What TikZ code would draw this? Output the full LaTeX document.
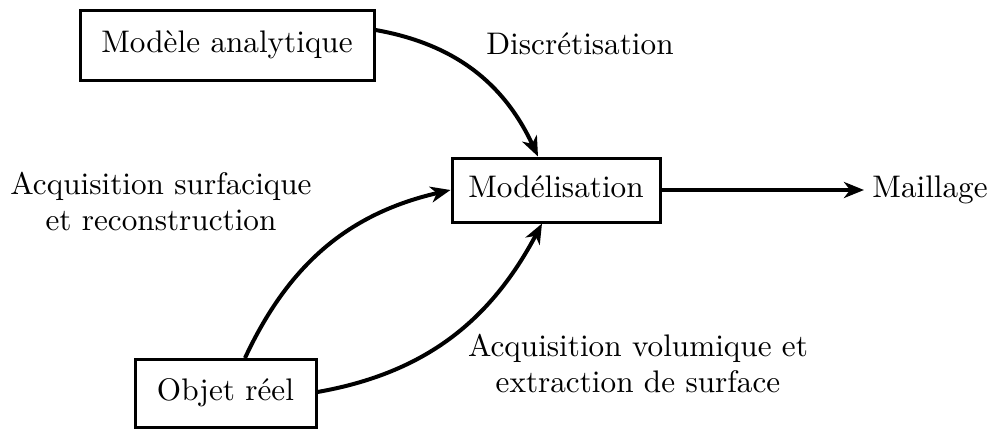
\documentclass[tikz,border=0pt]{standalone}
\usetikzlibrary{arrows.meta}
\newcommand{\bigtxt}[1]{\scalebox{1.56}{\fontsize{10}{11.6}\selectfont\begin{tabular}{@{}c@{}}#1\end{tabular}}}
\begin{document}
\begin{tikzpicture}[x=0.5pt,y=0.5pt,
  box/.style={draw,line width=1.5pt,inner sep=0pt},
  lab/.style={inner sep=0pt},
  conn/.style={line width=2pt,-{Stealth[length=10pt,width=8pt,inset=3pt]}}]
\useasboundingbox (0,0) rectangle (992,430);
\node[box,minimum width=147pt,minimum height=35pt] (ma) at (227,385) {\bigtxt{Modèle analytique}};
\node[box,minimum width=104pt,minimum height=32pt] (mo) at (556,240) {\bigtxt{Modélisation}};
\node[box,minimum width=90.5pt,minimum height=34pt] (or) at (225.5,36.5) {\bigtxt{Objet réel}};
\coordinate (ms) at (864,240);
\node[lab,anchor=west] (mail) at (872,240) {\bigtxt{Maillage}};
\node[lab] (disc) at (580,383) {\bigtxt{Discrétisation}};
\node[lab] (surf) at (161,225) {\bigtxt{Acquisition surfacique\\et reconstruction}};
\node[lab] (vol) at (638,63) {\bigtxt{Acquisition volumique et\\extraction de surface}};
\draw[conn] (ma.east |- 0,400) to[out=-10,in=115] (mo.north -| 538,0);
\draw[conn] (or.north -| 245,0) to[out=65,in=193] (mo.west);
\draw[conn] (or.east |- 0,38) to[out=10,in=242] (mo.south -| 542,0);
\draw[conn] (mo.east) -- (ms);
\end{tikzpicture}
\end{document}
